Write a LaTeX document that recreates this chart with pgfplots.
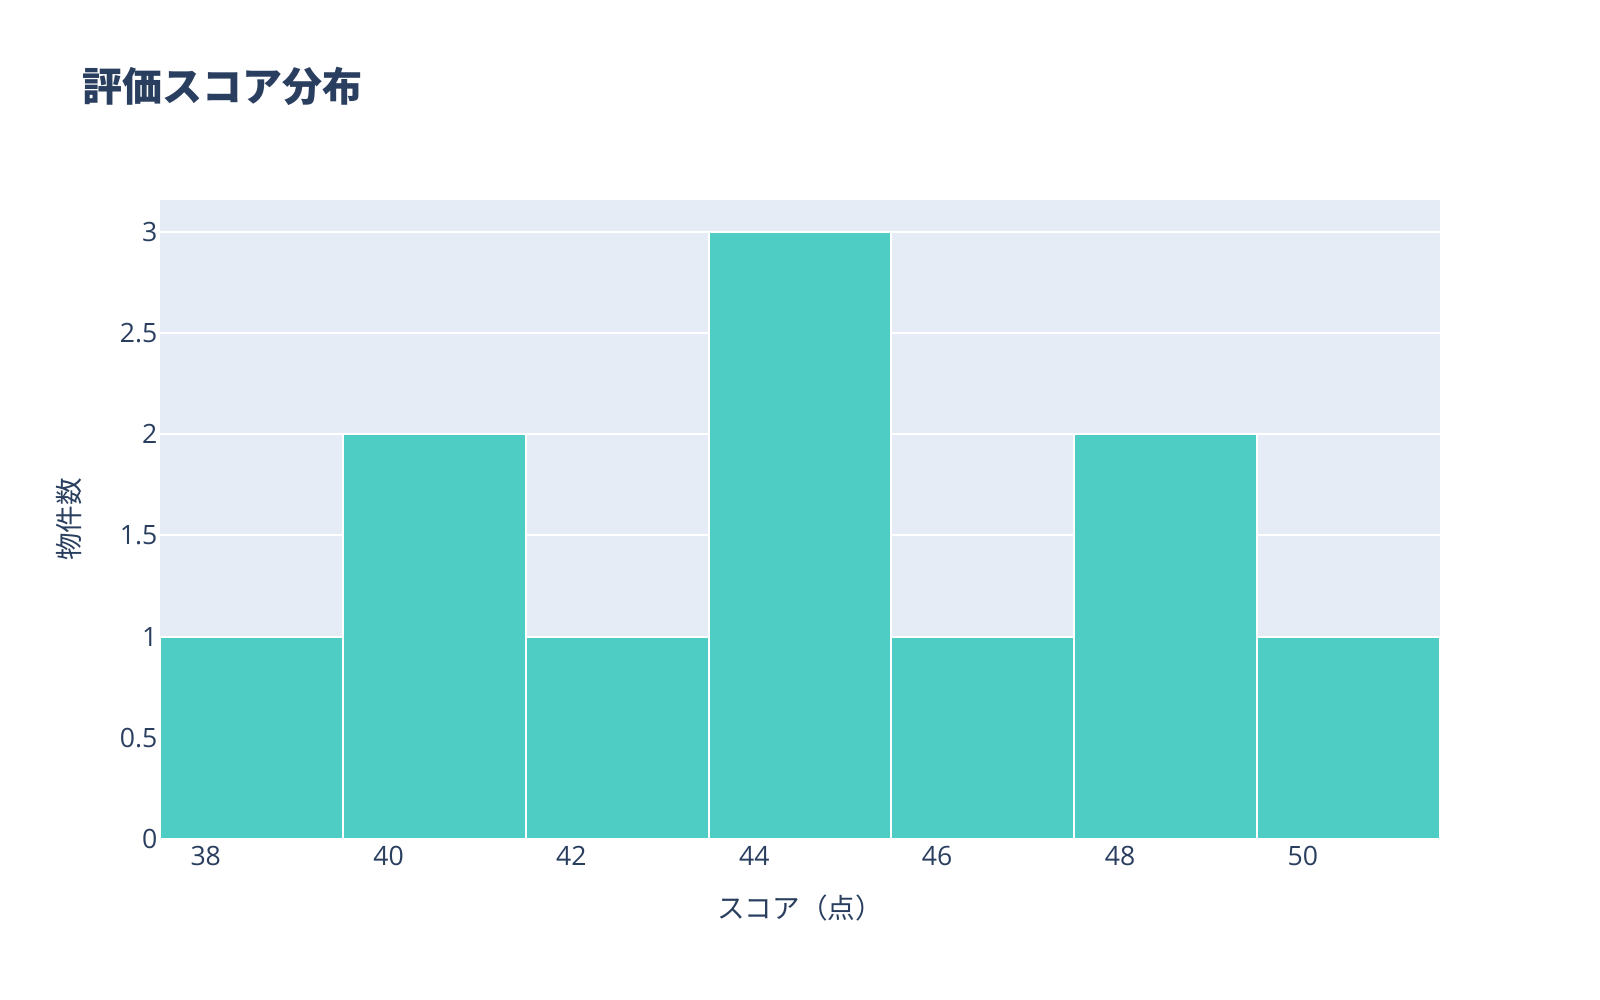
\documentclass[border=0pt]{standalone}
\usepackage{pgfplots}
\pgfplotsset{compat=1.18}
\usepackage{fontspec}
\setmainfont{Open Sans}
\newfontfamily\cjk{Noto Sans CJK JP}
\definecolor{txt}{HTML}{2A3F5F}
\definecolor{bg}{HTML}{E5ECF6}
\definecolor{bar}{HTML}{4ECDC4}
\begin{document}
\begin{tikzpicture}[x=1pt,y=1pt]
\fill[white] (0,0) rectangle (800,500);
\node[anchor=west,text=txt,font=\cjk\bfseries\fontsize{20}{24}\selectfont,inner sep=0pt] at (40.8,456.7) {評価スコア分布};
\begin{axis}[
  at={(80pt,80.5pt)}, anchor=south west,
  scale only axis, width=640pt, height=319.5pt,
  xmin=37.5, xmax=51.5, ymin=0, ymax=3.156,
  axis background/.style={fill=bg},
  axis line style={draw=none},
  major tick length=0pt,
  xtick={38,40,42,44,46,48,50},
  ytick={0,0.5,1,1.5,2,2.5,3},
  ymajorgrids, grid style={white, line width=1pt},
  /pgf/number format/assume math mode=true,
  tick label style={text=txt, font=\fontsize{13.3}{15}\selectfont},
  xticklabel style={yshift=0pt},
  yticklabel style={xshift=2.2pt},
  xlabel={\cjk スコア（点）},
  ylabel={\cjk 物件数},
  label style={text=txt, font=\fontsize{13.8}{16}\selectfont},
  xlabel style={at={(rel axis cs:0.5,0)}, anchor=center, yshift=-34.5pt},
  ylabel style={at={(rel axis cs:0,0.5)}, anchor=center, yshift=45.5pt},
  clip=false,
]
\addplot[ybar interval, fill=bar, draw=white, line width=1pt] coordinates {
  (37.5,1) (39.5,2) (41.5,1) (43.5,3) (45.5,1) (47.5,2) (49.5,1) (51.5,1)
};
\end{axis}
\end{tikzpicture}
\end{document}
